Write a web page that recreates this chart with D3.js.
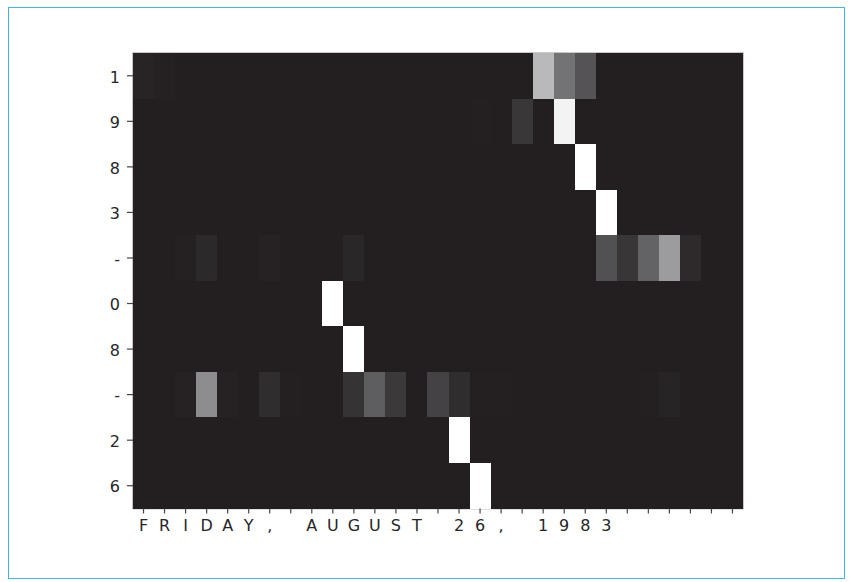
<!DOCTYPE html>
<html>
<head>
<meta charset="utf-8">
<script src="https://cdn.jsdelivr.net/npm/d3@7"></script>
<style>
  html, body { margin: 0; padding: 0; background: #fff; }
  svg { display: block; }
</style>
</head>
<body>
<svg id="chart" width="851" height="582"></svg>
<script>
// Input characters (x) and output characters (y)
const inputChars = ["F","R","I","D","A","Y",","," ","A","U","G","U","S","T"," ","2","6",","," ","1","9","8","3"," "," "," "," "," "," "];
const outputChars = ["1","9","8","3","-","0","8","-","2","6"];

// Attention weights, one array per output row (29 input columns each)
const row1  = [0.03,0.014,0,0,0,0,0,0,0,0,0,0,0,0,0,0,0,0,0,0.745,0.48,0.30,0,0,0,0,0,0,0];
const row9  = [0,0,0,0,0,0,0,0,0,0,0,0,0,0,0,0,0.008,0,0.14,0,0.956,0,0,0,0,0,0,0,0];
const row8a = [0,0,0,0,0,0,0,0,0,0,0,0,0,0,0,0,0,0,0,0,0,1,0,0,0,0,0,0,0];
const row3  = [0,0,0,0,0,0,0,0,0,0,0,0,0,0,0,0,0,0,0,0,0,0,1,0,0,0,0,0,0];
const rowDa = [0,0,0.012,0.055,0,0,0.018,0,0,0,0.045,0,0,0,0,0,0,0,0,0,0,0,0.28,0.13,0.385,0.64,0.066,0,0];
const row0  = [0,0,0,0,0,0,0,0,0,1,0,0,0,0,0,0,0,0,0,0,0,0,0,0,0,0,0,0,0];
const row8b = [0,0,0,0,0,0,0,0,0,0,1,0,0,0,0,0,0,0,0,0,0,0,0,0,0,0,0,0,0];
const rowDb = [0,0,0.016,0.584,0.02,0,0.078,0.006,0,0,0.115,0.355,0.15,0,0.2,0.078,0.008,0.006,0,0,0,0,0,0,0.006,0.026,0,0,0];
const row2  = [0,0,0,0,0,0,0,0,0,0,0,0,0,0,0,1,0,0,0,0,0,0,0,0,0,0,0,0,0];
const row6  = [0,0,0,0,0,0,0,0,0,0,0,0,0,0,0,0,1,0,0,0,0,0,0,0,0,0,0,0,0];
const weights = [row1, row9, row8a, row3, rowDa, row0, row8b, rowDb, row2, row6];

const svg = d3.select("#chart");

// outer frame
svg.append("rect")
  .attr("x", 8.5).attr("y", 7.5)
  .attr("width", 836).attr("height", 571)
  .attr("fill", "none")
  .attr("stroke", "#3cb9ec")
  .attr("stroke-width", 1);

const plotLeft = 133, plotTop = 53, plotW = 610, plotH = 455.5;

const colIdx = d3.range(inputChars.length);
const rowIdx = d3.range(outputChars.length);

const x = d3.scaleBand().domain(colIdx).range([plotLeft, plotLeft + plotW]).paddingInner(0).paddingOuter(0);
const y = d3.scaleBand().domain(rowIdx).range([plotTop, plotTop + plotH]).paddingInner(0).paddingOuter(0);

const color = d3.scaleLinear()
  .domain([0, 0.5, 1])
  .range(["#231f20", "#76767a", "#ffffff"])
  .interpolate(d3.interpolateRgb)
  .clamp(true);

const cells = [];
weights.forEach((row, r) => row.forEach((v, c) => cells.push({ r, c, v })));

// frame line around the image
svg.append("rect")
  .attr("x", plotLeft - 0.5).attr("y", plotTop - 0.5)
  .attr("width", plotW + 1).attr("height", plotH + 1)
  .attr("fill", "none")
  .attr("stroke", "#c8c8c8")
  .attr("stroke-width", 1);

svg.append("g")
  .selectAll("rect")
  .data(cells)
  .join("rect")
  .attr("x", d => x(d.c))
  .attr("y", d => y(d.r))
  .attr("width", x.bandwidth() + 0.3)
  .attr("height", y.bandwidth() + 0.3)
  .attr("fill", d => color(d.v))
  .attr("shape-rendering", "crispEdges");

const xAxis = d3.axisBottom(x)
  .tickFormat(i => inputChars[i])
  .tickSize(5)
  .tickPadding(6);

const yAxis = d3.axisLeft(y)
  .tickFormat(i => outputChars[i])
  .tickSize(6)
  .tickPadding(7);

const gx = svg.append("g")
  .attr("transform", `translate(0,${plotTop + plotH})`)
  .call(xAxis);
const gy = svg.append("g")
  .attr("transform", `translate(${plotLeft},0)`)
  .call(yAxis);

[gx, gy].forEach(g => {
  g.select(".domain").remove();
  g.selectAll(".tick line").attr("stroke", "#444").attr("stroke-width", 1.2);
  g.selectAll(".tick text")
    .attr("fill", "#262626")
    .style("font-family", "'DejaVu Sans', sans-serif")
    .style("font-size", "16px");
});
gy.selectAll(".tick text").attr("dy", "0.42em");
</script>
</body>
</html>
